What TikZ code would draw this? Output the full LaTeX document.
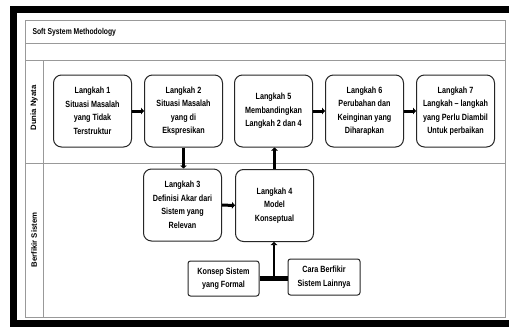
\documentclass[tikz,border=0pt]{standalone}
\usepackage{fontspec}
\setmainfont[FakeStretch=0.8]{Liberation Sans}
\newfontfamily\lanefont{Liberation Sans}
\usetikzlibrary{arrows.meta}
\begin{document}
\begin{tikzpicture}[x=1pt,y=-1pt,
  lane/.style={draw=black!40, line width=1pt},
  stepbox/.style={draw=black!85, line width=1pt, rounded corners=8pt, align=center,
    minimum width=78pt, minimum height=72pt, inner sep=1pt,
    font=\bfseries\fontsize{9}{13.5}\selectfont},
  srcbox/.style={draw=black!85, line width=1pt, rounded corners=2.5pt, align=center,
    minimum width=71pt, minimum height=35pt, inner sep=1pt,
    font=\bfseries\fontsize{9}{13.5}\selectfont},
  flow/.style={line width=3pt, -{Triangle[length=3pt,width=6.5pt]}},
  lanetitle/.style={rotate=90, font=\lanefont\bfseries\fontsize{7.8}{10}\selectfont}
]
% page and black frame
\fill[white] (0,0) rectangle (509,327);
\useasboundingbox (0,0) rectangle (509,327);
\fill[black] (10,6) rectangle (17,327);
\fill[black] (10,6) rectangle (509,13);
\fill[black] (10,320) rectangle (509,327);

% pool with two lanes
\draw[lane] (25,20) rectangle (505,317);
\draw[lane] (25,43) -- (505,43);
\draw[lane] (25,60) -- (505,60);
\draw[lane] (25,163) -- (505,163);
\draw[lane] (43,60) -- (43,317);
\node[anchor=west, font=\bfseries\fontsize{8.5}{10}\selectfont] (title) at (29,32) {Soft System Methodology};
\node[lanetitle] (dunia) at (34,108) {Dunia Nyata};
\node[lanetitle] (berfikir) at (34,240) {Berfikir Sistem};

% steps
\node[stepbox] (b1) at (92.5,111) {Langkah 1\\Situasi Masalah\\yang Tidak\\Terstruktur};
\node[stepbox] (b2) at (183.5,111) {Langkah 2\\Situasi Masalah\\yang di\\Ekspresikan};
\node[stepbox] (b5) at (273.5,111) {Langkah 5\\Membandingkan\\Langkah 2 dan 4};
\node[stepbox] (b6) at (364.5,111) {Langkah 6\\Perubahan dan\\Keinginan yang\\Diharapkan};
\node[stepbox] (b7) at (455.5,111) {Langkah 7\\Langkah -- langkah\\yang Perlu Diambil\\Untuk perbaikan};
\node[stepbox] (b3) at (182.5,205) {Langkah 3\\Definisi Akar dari\\Sistem yang\\Relevan};
\node[stepbox] (b4) at (274.5,205.5) {Langkah 4\\Model\\Konseptual};
\node[srcbox] (kon) at (223.5,278.5) {Konsep Sistem\\yang Formal};
\node[srcbox, minimum width=72pt, minimum height=36pt] (cara) at (324,277) {Cara Berfikir\\Sistem Lainnya};

% flow
\draw[flow] (b1) -- (b2);
\draw[flow, line width=2.5pt] (b2.south) -- (b2.south |- b3.north);
\draw[flow] (b3) -- (b4);
\draw[flow, line width=2.5pt] (b4.north) -- (b4.north |- b5.south);
\draw[flow] (b5) -- (b6);
\draw[flow] (b6) -- (b7);
\coordinate (j) at (274,278);
\draw[line width=5pt] (kon.east |- j) -- (cara.west |- j);
\draw[flow, line width=2.5pt] (j) -- (j |- b4.south);
\end{tikzpicture}
\end{document}
